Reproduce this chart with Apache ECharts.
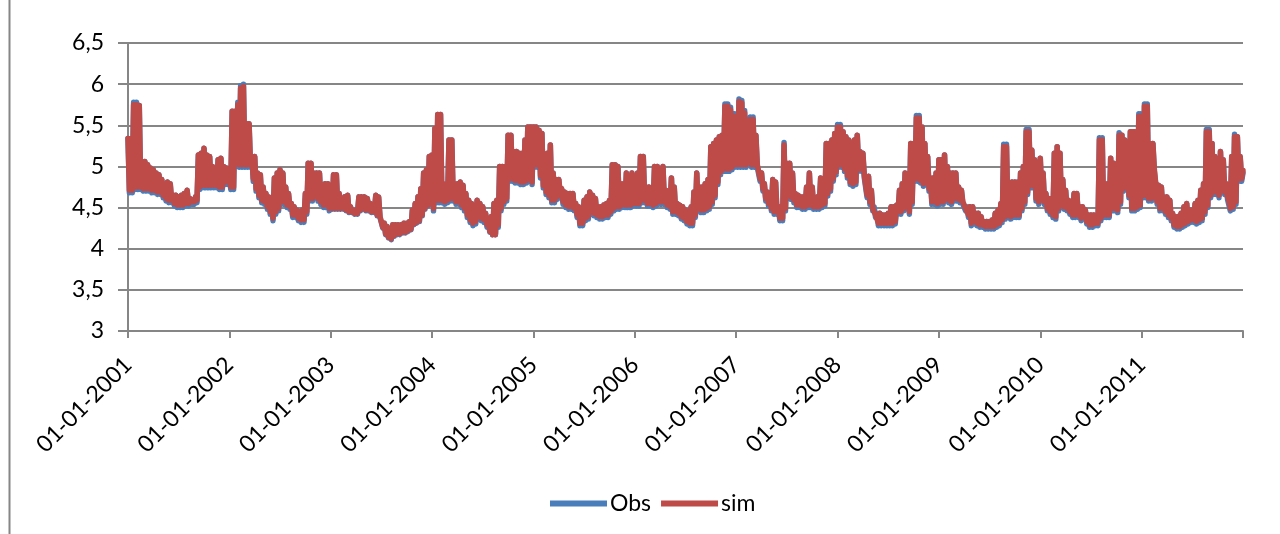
<!DOCTYPE html>
<html>
<head>
<meta charset="utf-8">
<script src="https://cdn.jsdelivr.net/npm/echarts@6/dist/echarts.min.js"></script>
<style>
html,body{margin:0;padding:0;background:#fff;}
#chart{width:1280px;height:534px;}
</style>
</head>
<body>
<div id="chart"></div>
<script>
// Daily series summarised as the upper and lower value reached inside each
// ~10-day window (36 windows per year).
const years = [2001, 2002, 2003, 2004, 2005, 2006, 2007, 2008, 2009, 2010, 2011];
const endYear = 2012;
const windowsPerYear = 36;
const seriesNames = ['Obs', 'sim'];
const yTicks = [3, 3.5, 4, 4.5, 5, 5.5, 6, 6.5];

const simHigh = [
[5.34,5.34,5.75,5.75,5.74,5.06,5.06,5.02,4.98,4.96,4.92,4.90,4.84,4.75,4.81,4.79,4.65,4.65,4.63,4.65,4.67,4.71,4.61,4.59,4.63,5.14,5.16,5.22,5.14,5.12,5.00,4.98,5.08,5.10,5.00,4.98],
[4.92,5.67,5.67,5.75,5.95,5.97,5.52,5.52,5.12,5.12,4.92,4.90,4.75,4.67,4.63,4.55,4.86,4.92,4.96,4.92,4.75,4.67,4.55,4.51,4.47,4.45,4.47,4.67,5.04,5.04,4.92,4.92,4.92,4.75,4.79,4.79],
[4.75,4.90,4.90,4.67,4.61,4.63,4.65,4.51,4.47,4.47,4.63,4.63,4.63,4.61,4.55,4.51,4.65,4.63,4.39,4.31,4.27,4.23,4.29,4.29,4.29,4.29,4.31,4.31,4.33,4.47,4.55,4.63,4.73,4.92,4.96,5.12],
[5.14,5.46,5.63,5.63,4.75,4.79,5.32,5.32,4.79,4.79,4.81,4.77,4.67,4.59,4.55,4.51,4.59,4.55,4.51,4.43,4.35,4.39,4.55,4.59,5.00,5.00,5.00,5.38,5.38,5.18,5.18,5.16,5.16,5.32,5.48,5.48],
[5.48,5.48,5.44,5.40,5.10,5.16,5.26,4.92,4.84,4.84,4.73,4.69,4.67,4.67,4.67,4.55,4.51,4.49,4.59,4.63,4.69,4.65,4.61,4.51,4.51,4.53,4.55,4.59,5.02,5.02,5.00,4.79,4.79,4.92,4.79,4.92],
[4.79,4.92,5.12,5.12,4.75,4.75,4.63,5.00,5.00,4.96,5.00,4.71,4.63,4.86,4.75,4.55,4.53,4.51,4.47,4.45,4.51,4.69,4.92,4.75,4.75,4.79,4.84,5.24,5.28,5.32,5.36,5.38,5.73,5.73,5.69,5.61],
[5.61,5.79,5.77,5.65,5.36,5.57,5.57,5.38,5.00,4.92,4.79,4.69,4.67,4.84,4.81,4.51,4.51,5.26,5.04,5.04,4.92,4.67,4.65,4.63,4.63,4.75,4.92,4.75,4.59,4.63,4.86,4.63,5.28,5.28,5.32,5.40],
[5.48,5.48,5.42,5.36,5.32,5.20,5.32,5.38,5.18,5.16,4.88,4.88,4.71,4.51,4.43,4.43,4.41,4.41,4.43,4.51,4.51,4.53,4.71,4.79,4.92,4.67,5.28,5.28,5.59,5.59,5.48,5.28,5.12,4.86,4.86,4.92],
[5.08,5.08,5.14,5.00,4.92,4.92,4.92,4.75,4.71,4.55,4.51,4.51,4.51,4.43,4.43,4.39,4.33,4.33,4.33,4.35,4.43,4.47,4.55,5.24,5.24,4.67,4.81,4.81,4.81,4.92,5.00,5.42,5.42,5.20,5.08,4.92],
[5.10,4.92,4.67,4.61,4.61,5.16,5.24,5.16,4.84,4.71,4.59,4.51,4.67,4.67,4.51,4.51,4.47,4.41,4.41,4.41,4.41,5.32,5.32,4.79,4.79,5.10,5.04,4.84,5.38,5.38,5.32,5.28,5.42,5.42,5.42,5.61],
[5.61,5.73,5.73,5.28,5.28,4.79,4.77,4.75,4.63,4.63,4.59,4.43,4.39,4.39,4.43,4.51,4.55,4.47,4.47,4.55,4.59,4.71,4.79,5.42,5.42,5.28,5.12,4.84,5.18,5.08,4.79,4.59,5.12,5.36,5.36,5.12,4.95]
];
const simLow = [
[4.71,4.71,4.75,4.75,4.75,4.73,4.73,4.73,4.71,4.71,4.69,4.69,4.65,4.61,4.59,4.59,4.55,4.53,4.53,4.53,4.55,4.55,4.57,4.57,4.59,4.75,4.77,4.77,4.77,4.77,4.77,4.77,4.75,4.75,4.81,4.81],
[4.75,4.75,5.06,5.02,5.02,5.02,5.02,5.02,4.85,4.73,4.65,4.59,4.57,4.51,4.45,4.37,4.45,4.49,4.57,4.57,4.53,4.51,4.41,4.41,4.37,4.35,4.35,4.45,4.61,4.61,4.65,4.61,4.57,4.53,4.53,4.49],
[4.49,4.49,4.49,4.49,4.49,4.47,4.45,4.45,4.43,4.43,4.47,4.49,4.47,4.47,4.45,4.45,4.41,4.39,4.26,4.18,4.14,4.12,4.16,4.18,4.18,4.20,4.20,4.22,4.24,4.30,4.32,4.34,4.41,4.49,4.53,4.55],
[4.49,4.59,4.59,4.59,4.57,4.59,4.61,4.61,4.57,4.57,4.53,4.49,4.41,4.35,4.31,4.33,4.39,4.37,4.35,4.29,4.21,4.17,4.17,4.29,4.49,4.57,4.61,4.85,4.85,4.83,4.83,4.81,4.81,4.83,4.85,4.81],
[5.02,5.02,4.89,4.77,4.69,4.65,4.59,4.59,4.63,4.69,4.57,4.53,4.51,4.51,4.49,4.41,4.31,4.31,4.37,4.39,4.45,4.43,4.41,4.39,4.39,4.41,4.41,4.45,4.49,4.51,4.51,4.53,4.53,4.53,4.53,4.55],
[4.55,4.55,4.59,4.59,4.55,4.55,4.53,4.55,4.57,4.57,4.57,4.53,4.51,4.45,4.45,4.43,4.39,4.37,4.33,4.31,4.31,4.41,4.49,4.47,4.47,4.49,4.51,4.57,4.65,4.81,4.93,4.97,4.97,4.97,4.99,5.02],
[5.02,5.02,5.02,5.02,5.08,5.02,5.02,5.02,4.85,4.73,4.61,4.55,4.49,4.45,4.45,4.37,4.37,4.49,4.65,4.63,4.59,4.53,4.53,4.51,4.51,4.53,4.53,4.51,4.51,4.51,4.53,4.55,4.67,4.73,4.85,4.93],
[5.02,5.02,4.97,4.89,4.81,4.79,4.81,4.97,4.97,4.89,4.65,4.57,4.49,4.41,4.31,4.31,4.31,4.31,4.31,4.31,4.33,4.45,4.45,4.49,4.57,4.45,4.57,4.85,4.85,4.83,4.79,4.81,4.73,4.57,4.57,4.55],
[4.57,4.57,4.61,4.59,4.57,4.61,4.61,4.59,4.57,4.49,4.41,4.31,4.33,4.31,4.29,4.29,4.27,4.27,4.27,4.27,4.29,4.31,4.35,4.39,4.41,4.39,4.41,4.41,4.41,4.49,4.57,4.69,4.77,4.77,4.61,4.57],
[4.69,4.57,4.49,4.45,4.41,4.39,4.49,4.53,4.51,4.49,4.45,4.41,4.41,4.41,4.37,4.39,4.33,4.29,4.29,4.31,4.31,4.37,4.41,4.41,4.41,4.49,4.49,4.47,4.57,4.73,4.85,4.65,4.49,4.49,4.51,4.53],
[4.65,4.65,4.61,4.61,4.97,4.57,4.49,4.49,4.45,4.41,4.37,4.29,4.27,4.27,4.29,4.31,4.33,4.35,4.35,4.33,4.35,4.37,4.45,4.53,4.65,4.69,4.69,4.65,4.73,4.69,4.63,4.49,4.51,4.57,4.85,4.85]
];

const obsHigh = [
[5.34,5.34,5.78,5.78,5.74,5.06,5.06,5.02,4.98,4.96,4.92,4.90,4.84,4.75,4.81,4.79,4.65,4.65,4.63,4.65,4.67,4.71,4.61,4.59,4.63,5.14,5.16,5.22,5.14,5.12,5.00,4.98,5.08,5.10,5.00,4.98],
[4.92,5.67,5.67,5.78,5.98,6.00,5.52,5.52,5.12,5.12,4.92,4.90,4.75,4.67,4.63,4.55,4.86,4.92,4.96,4.92,4.75,4.67,4.55,4.51,4.47,4.45,4.47,4.67,5.04,5.04,4.92,4.92,4.92,4.75,4.79,4.79],
[4.75,4.90,4.90,4.67,4.61,4.63,4.65,4.51,4.47,4.47,4.63,4.63,4.63,4.61,4.55,4.51,4.65,4.63,4.39,4.31,4.27,4.23,4.29,4.29,4.29,4.29,4.31,4.31,4.33,4.47,4.55,4.63,4.73,4.92,4.96,5.12],
[5.14,5.46,5.63,5.63,4.75,4.79,5.32,5.32,4.79,4.79,4.81,4.77,4.67,4.59,4.55,4.51,4.59,4.55,4.51,4.43,4.35,4.39,4.55,4.59,5.00,5.00,5.00,5.38,5.38,5.18,5.18,5.16,5.16,5.32,5.48,5.48],
[5.48,5.48,5.44,5.40,5.10,5.16,5.26,4.92,4.84,4.84,4.73,4.69,4.67,4.67,4.67,4.55,4.51,4.49,4.59,4.63,4.69,4.65,4.61,4.51,4.51,4.53,4.55,4.59,5.02,5.02,5.00,4.79,4.79,4.92,4.79,4.92],
[4.79,4.92,5.12,5.12,4.75,4.75,4.63,5.00,5.00,4.96,5.00,4.71,4.63,4.86,4.75,4.55,4.53,4.51,4.47,4.45,4.51,4.69,4.92,4.75,4.75,4.79,4.84,5.24,5.28,5.32,5.36,5.38,5.76,5.76,5.72,5.64],
[5.64,5.82,5.80,5.68,5.36,5.60,5.60,5.38,5.00,4.92,4.79,4.69,4.67,4.84,4.81,4.51,4.51,5.29,5.04,5.04,4.92,4.67,4.65,4.63,4.63,4.75,4.92,4.75,4.59,4.63,4.86,4.63,5.28,5.28,5.32,5.40],
[5.51,5.51,5.42,5.36,5.32,5.20,5.32,5.38,5.18,5.16,4.88,4.88,4.71,4.51,4.43,4.43,4.41,4.41,4.43,4.51,4.51,4.53,4.71,4.79,4.92,4.67,5.28,5.28,5.62,5.62,5.48,5.28,5.12,4.86,4.86,4.92],
[5.08,5.08,5.14,5.00,4.92,4.92,4.92,4.75,4.71,4.55,4.51,4.51,4.51,4.43,4.43,4.39,4.33,4.33,4.33,4.35,4.43,4.47,4.55,5.27,5.27,4.67,4.81,4.81,4.81,4.92,5.00,5.45,5.45,5.20,5.08,4.92],
[5.10,4.92,4.67,4.61,4.61,5.16,5.24,5.16,4.84,4.71,4.59,4.51,4.67,4.67,4.51,4.51,4.47,4.41,4.41,4.41,4.41,5.35,5.35,4.79,4.79,5.10,5.04,4.84,5.41,5.38,5.32,5.28,5.42,5.42,5.42,5.64],
[5.64,5.76,5.76,5.28,5.28,4.79,4.77,4.75,4.63,4.63,4.59,4.43,4.39,4.39,4.43,4.51,4.55,4.47,4.47,4.55,4.59,4.71,4.79,5.45,5.45,5.28,5.12,4.84,5.18,5.08,4.79,4.59,5.12,5.39,5.36,5.12,4.92]
];
const obsLow = [
[4.68,4.68,4.72,4.72,4.72,4.70,4.70,4.70,4.68,4.68,4.66,4.66,4.62,4.58,4.56,4.56,4.52,4.50,4.50,4.50,4.52,4.52,4.54,4.54,4.56,4.72,4.74,4.74,4.74,4.74,4.74,4.74,4.72,4.72,4.78,4.78],
[4.72,4.72,5.03,4.99,4.99,4.99,4.99,4.99,4.82,4.70,4.62,4.56,4.54,4.48,4.42,4.34,4.42,4.46,4.54,4.54,4.50,4.48,4.38,4.38,4.34,4.32,4.32,4.42,4.58,4.58,4.62,4.58,4.54,4.50,4.50,4.46],
[4.48,4.48,4.48,4.48,4.48,4.46,4.44,4.44,4.42,4.42,4.46,4.48,4.46,4.46,4.44,4.44,4.40,4.38,4.25,4.17,4.13,4.11,4.15,4.17,4.17,4.19,4.19,4.21,4.23,4.29,4.31,4.33,4.40,4.48,4.52,4.54],
[4.46,4.56,4.56,4.56,4.54,4.56,4.58,4.58,4.54,4.54,4.50,4.46,4.38,4.32,4.28,4.30,4.36,4.34,4.32,4.26,4.20,4.17,4.17,4.26,4.46,4.54,4.58,4.82,4.82,4.80,4.80,4.78,4.78,4.80,4.82,4.78],
[4.99,4.99,4.86,4.74,4.66,4.62,4.56,4.56,4.60,4.66,4.54,4.50,4.48,4.48,4.46,4.38,4.28,4.28,4.34,4.36,4.42,4.40,4.38,4.36,4.36,4.38,4.38,4.42,4.46,4.48,4.48,4.50,4.50,4.50,4.50,4.52],
[4.52,4.52,4.56,4.56,4.52,4.52,4.50,4.52,4.54,4.54,4.54,4.50,4.48,4.42,4.42,4.40,4.36,4.34,4.30,4.28,4.28,4.38,4.46,4.44,4.44,4.46,4.48,4.54,4.62,4.78,4.90,4.94,4.94,4.94,4.96,4.99],
[4.99,4.99,4.99,4.99,5.05,4.99,4.99,4.99,4.82,4.70,4.58,4.52,4.46,4.42,4.42,4.34,4.34,4.46,4.62,4.60,4.56,4.50,4.50,4.48,4.48,4.50,4.50,4.48,4.48,4.48,4.50,4.52,4.64,4.70,4.82,4.90],
[4.99,4.99,4.94,4.86,4.78,4.76,4.78,4.94,4.94,4.86,4.62,4.54,4.46,4.38,4.28,4.28,4.28,4.28,4.28,4.28,4.30,4.42,4.42,4.46,4.54,4.42,4.54,4.82,4.82,4.80,4.76,4.78,4.70,4.54,4.54,4.52],
[4.54,4.54,4.58,4.56,4.54,4.58,4.58,4.56,4.54,4.46,4.38,4.28,4.30,4.28,4.26,4.26,4.24,4.24,4.24,4.24,4.26,4.28,4.32,4.36,4.38,4.36,4.38,4.38,4.38,4.46,4.54,4.66,4.74,4.74,4.58,4.54],
[4.66,4.54,4.46,4.42,4.38,4.36,4.46,4.50,4.48,4.46,4.42,4.38,4.38,4.38,4.34,4.36,4.30,4.26,4.26,4.28,4.28,4.34,4.38,4.38,4.38,4.46,4.46,4.44,4.54,4.70,4.82,4.62,4.46,4.46,4.48,4.50],
[4.62,4.62,4.58,4.58,4.94,4.54,4.46,4.46,4.42,4.38,4.34,4.26,4.24,4.24,4.26,4.28,4.30,4.32,4.32,4.30,4.32,4.34,4.42,4.50,4.62,4.66,4.66,4.62,4.70,4.66,4.60,4.46,4.48,4.54,4.82,4.82]
];

// Each window contributes its high (at the window start) and its low (mid-window).
function buildSeries(highs, lows) {
  const out = [];
  years.forEach((yr, yi) => {
    const hi = highs[yi], lo = lows[yi];
    for (let k = 0; k < hi.length; k++) {
      out.push([yr + k / windowsPerYear, hi[k]]);
      if (k < lo.length) out.push([yr + (k + 0.5) / windowsPerYear, lo[k]]);
    }
  });
  return out;
}

const FONT = 'Lato';
const chart = echarts.init(document.getElementById('chart'), null, {renderer: 'canvas'});
chart.setOption({
  animation: false,
  backgroundColor: '#ffffff',
  grid: {left: 128, right: 37, top: 43, bottom: 203, containLabel: false},
  legend: {
    data: seriesNames,
    left: 545,
    top: 487,
    icon: 'rect',
    itemWidth: 57,
    itemHeight: 6,
    itemGap: 10,
    textStyle: {fontFamily: FONT, fontSize: 23, color: '#000', padding: [0, 0, 0, -2]}
  },
  xAxis: {
    type: 'value',
    min: years[0],
    max: endYear,
    interval: 1,
    axisLine: {lineStyle: {color: '#868686', width: 2}},
    axisTick: {show: true, length: 7, lineStyle: {color: '#868686', width: 2}},
    splitLine: {show: false},
    axisLabel: {
      rotate: 45,
      margin: 30,
      fontFamily: FONT,
      fontSize: 23,
      color: '#000',
      formatter: v => (v >= endYear ? '' : '01-01-' + Math.round(v))
    }
  },
  yAxis: {
    type: 'value',
    min: yTicks[0],
    max: yTicks[yTicks.length - 1],
    interval: 0.5,
    axisLine: {show: true, lineStyle: {color: '#868686', width: 2}},
    axisTick: {show: true, length: 10, lineStyle: {color: '#868686', width: 2}},
    splitLine: {show: true, lineStyle: {color: '#868686', width: 2}},
    axisLabel: {
      margin: 24,
      fontFamily: FONT,
      fontSize: 23,
      color: '#000',
      formatter: v => String(v).replace('.', ',')
    }
  },
  graphic: [{
    type: 'line',
    shape: {x1: 9.5, y1: 0, x2: 9.5, y2: 534},
    style: {stroke: '#868686', lineWidth: 2}
  }],
  series: [
    {name: seriesNames[0], type: 'line', data: buildSeries(obsHigh, obsLow), showSymbol: false, symbol: 'none',
     lineStyle: {color: '#4a7ebb', width: 5.5, join: 'round', cap: 'round'}, itemStyle: {color: '#4a7ebb'}},
    {name: seriesNames[1], type: 'line', data: buildSeries(simHigh, simLow), showSymbol: false, symbol: 'none',
     lineStyle: {color: '#be4b48', width: 5.5, join: 'round', cap: 'round'}, itemStyle: {color: '#be4b48'}}
  ]
});
</script>
</body>
</html>
